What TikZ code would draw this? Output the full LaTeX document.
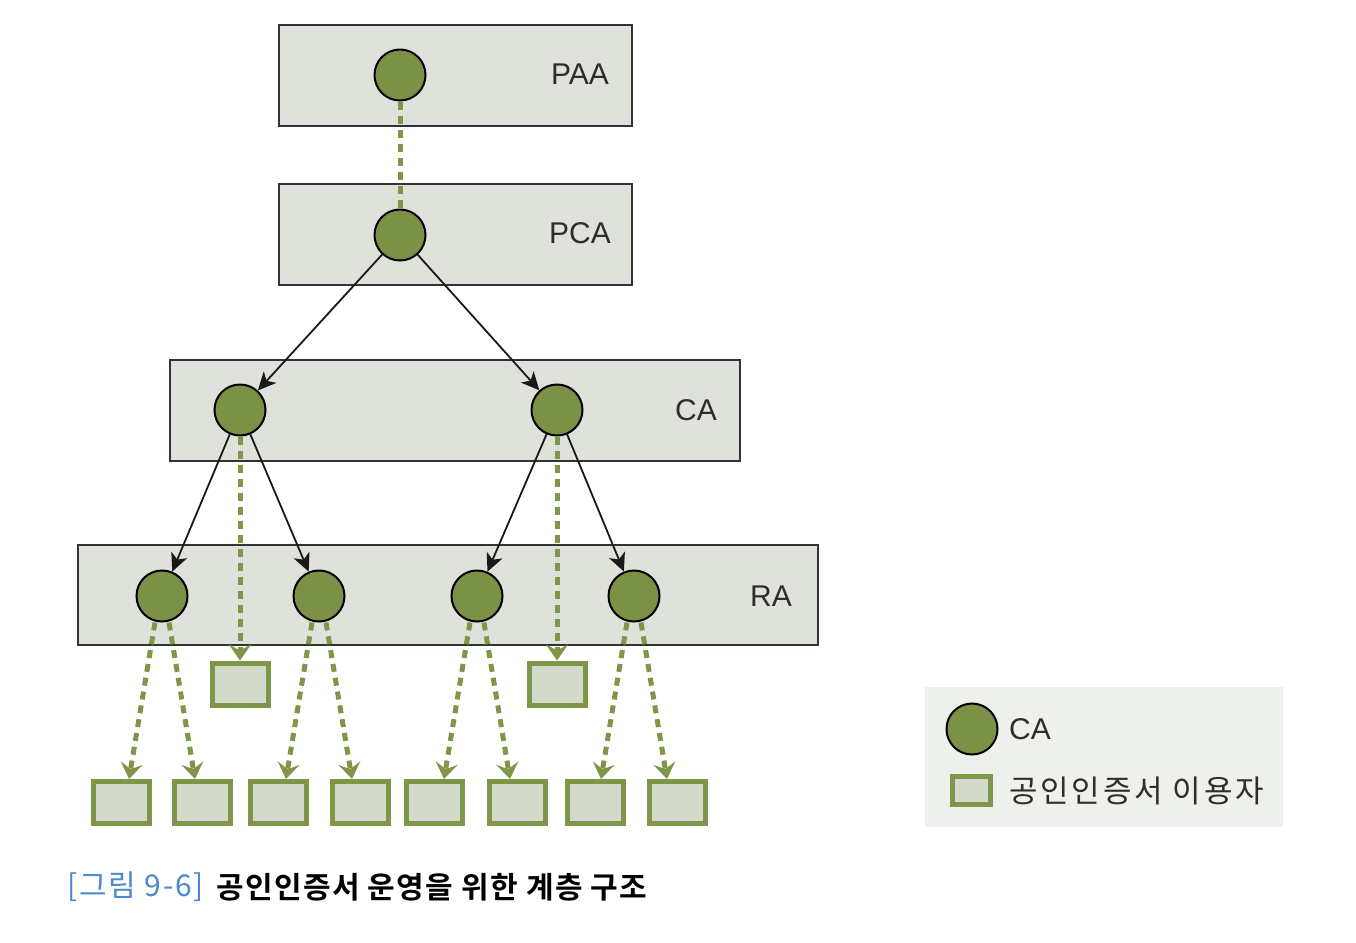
\documentclass[tikz,border=0pt]{standalone}
\usepackage{fontspec}
\setmainfont{Liberation Sans}
\newfontfamily\kr[LetterSpace=9]{Noto Sans CJK KR}
\newfontfamily\krcap[LetterSpace=6]{Noto Sans CJK KR}
\newfontfamily\krb[LetterSpace=4.5]{Noto Sans CJK KR Bold}
\usetikzlibrary{arrows.meta}
\definecolor{cagreen}{RGB}{122,145,70}
\definecolor{usergreen}{RGB}{125,150,72}
\definecolor{userfill}{RGB}{211,218,203}
\definecolor{layerfill}{RGB}{223,226,218}
\definecolor{legendbg}{RGB}{238,240,236}
\definecolor{capblue}{RGB}{74,137,207}
\definecolor{txt}{RGB}{45,45,45}
\tikzset{
  layer/.style={draw=black!80, fill=layerfill, line width=1.5pt, inner sep=0pt},
  lbl/.style={font=\fontsize{30}{30}\selectfont, text=txt, inner sep=0pt},
  canode/.style={circle, draw=black, line width=2pt, fill=cagreen, minimum size=51pt, inner sep=0pt},
  user/.style={draw=usergreen, fill=userfill, line width=5pt, minimum width=56pt, minimum height=42pt, inner sep=0pt},
  blk/.style={draw=black!90, line width=1.8pt, -{Stealth[length=18pt,width=17pt,inset=5pt]}},
  gdash/.style={draw=usergreen, line width=5pt, dash pattern=on 8pt off 6pt},
  garrow/.style={gdash, -{Stealth[length=16pt,width=22pt,inset=6pt]}},
}
\begin{document}
\begin{tikzpicture}[x=1pt,y=-1pt]
\useasboundingbox (0,0) rectangle (1356,942);
% layers
\node[layer, minimum width=353pt, minimum height=101pt] (lpaa) at (455.5,75.5) {};
\node[layer, minimum width=353pt, minimum height=101pt] (lpca) at (455.5,234.5) {};
\node[layer, minimum width=570pt, minimum height=101pt] (lca) at (455,410.5) {};
\node[layer, minimum width=740pt, minimum height=100pt] (lra) at (448,595) {};
\node[lbl] (tpaa) at (580,74) {PAA};
\node[lbl] (tpca) at (580,233) {PCA};
\node[lbl] (tca) at (696,410) {CA};
\node[lbl] (tra) at (771,596) {RA};
% circles
\node[canode] (paa) at (400,75) {};
\node[canode] (pca) at (400,235) {};
\node[canode] (c1) at (240,410) {};
\node[canode] (c2) at (557,410) {};
\node[canode] (r1) at (162,596) {};
\node[canode] (r2) at (319,596) {};
\node[canode] (r3) at (477,596) {};
\node[canode] (r4) at (634,596) {};
% user boxes
\node[user] (m1) at (240,684) {};
\node[user] (m2) at (557,684) {};
\node[user] (b1) at (121,802.5) {};
\node[user] (b2) at (202.5,802.5) {};
\node[user] (b3) at (278.5,802.5) {};
\node[user] (b4) at (360.5,802.5) {};
\node[user] (b5) at (434.5,802.5) {};
\node[user] (b6) at (517,802.5) {};
\node[user] (b7) at (595.5,802.5) {};
\node[user] (b8) at (677.5,802.5) {};
% connectors
\draw[gdash] (paa.south) -- (pca.north);
\draw[blk] (pca) -- (c1);
\draw[blk] (pca) -- (c2);
\draw[blk] (c1) -- (r1);
\draw[blk] (c1) -- (r2);
\draw[blk] (c2) -- (r3);
\draw[blk] (c2) -- (r4);
\draw[garrow] (c1.south) -- (m1.north);
\draw[garrow] (c2.south) -- (m2.north);
\draw[garrow] ([xshift=-7pt]r1.south) -- ([xshift=8pt]b1.north);
\draw[garrow] ([xshift=7pt]r1.south) -- ([xshift=-7.5pt]b2.north);
\draw[garrow] ([xshift=-7pt]r2.south) -- ([xshift=7.5pt]b3.north);
\draw[garrow] ([xshift=7pt]r2.south) -- ([xshift=-8.5pt]b4.north);
\draw[garrow] ([xshift=-7pt]r3.south) -- ([xshift=9.5pt]b5.north);
\draw[garrow] ([xshift=7pt]r3.south) -- ([xshift=-7pt]b6.north);
\draw[garrow] ([xshift=-7pt]r4.south) -- ([xshift=5.5pt]b7.north);
\draw[garrow] ([xshift=7pt]r4.south) -- ([xshift=-10.5pt]b8.north);
% legend
\node[fill=legendbg, minimum width=358pt, minimum height=140pt, inner sep=0pt] (legbg) at (1104,757) {};
\node[canode] (legca) at (972,729) {};
\node[lbl, anchor=west] (legcat) at (1009,729) {CA};
\node[user, minimum width=38pt, minimum height=28pt] (legu) at (971.5,790.5) {};
\node[lbl, anchor=west, font=\kr\fontsize{31}{31}\selectfont] (legut) at (1009,791) {공인인증서 이용자};
% caption
\node[anchor=west, inner sep=0pt, text=capblue, font=\krcap\fontsize{30}{30}\selectfont] (cap1) at (67,887) {[그림 9-6]};
\node[anchor=west, inner sep=0pt, text=black, font=\krb\fontsize{30}{30}\selectfont] (cap2) at (216,887) {공인인증서 운영을 위한 계층 구조};
\end{tikzpicture}
\end{document}
